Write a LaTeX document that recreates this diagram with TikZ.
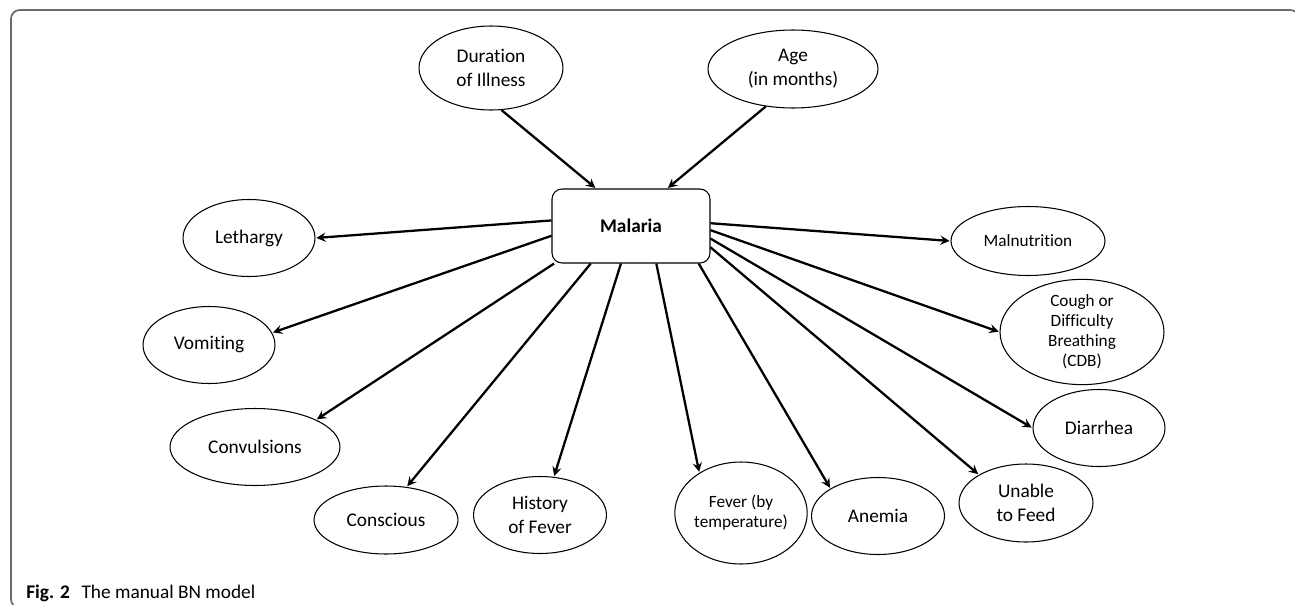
\documentclass[tikz,border=0pt]{standalone}
\usepackage{fontspec}
\setmainfont{Carlito}[Ligatures={NoCommon,NoContextual},Contextuals=NoAlternate]
\usetikzlibrary{arrows,shapes}

\begin{document}
\begin{tikzpicture}[x=0.02cm,y=-0.02cm,
    var/.style={ellipse,draw,line width=0.6pt,inner sep=0pt,align=center,font=\fontsize{11}{13.6}\selectfont},
    small/.style={font=\fontsize{9.8}{11.4}\selectfont},
    arr/.style={-stealth,line width=1.3pt,shorten >=0.5pt}]
  \useasboundingbox (0,0) rectangle (1295,605);
  \draw[gray!85!black,line width=1pt,rounded corners=5pt] (11,10) rectangle (1299,608);

  \node[draw,rounded corners=0.2cm,line width=0.6pt,minimum width=3.16cm,minimum height=1.48cm,
        font=\fontsize{11}{13}\selectfont\bfseries] (mal) at (631,226) {Malaria};

  \node[var,minimum width=2.88cm,minimum height=1.68cm] (dur) at (491,68) {Duration\\of Illness};
  \node[var,minimum width=3.40cm,minimum height=1.56cm] (age) at (793,69) {Age\\(in months)};
  \node[var,minimum width=2.64cm,minimum height=1.54cm] (leth) at (249,238) {Lethargy};
  \node[var,minimum width=2.64cm,minimum height=1.54cm] (vom) at (209,345) {Vomiting};
  \node[var,minimum width=3.40cm,minimum height=1.54cm] (conv) at (255,447) {Convulsions};
  \node[var,minimum width=2.88cm,minimum height=1.36cm] (consc) at (386,520) {Conscious};
  \node[var,minimum width=2.66cm,minimum height=1.54cm] (hist) at (540,515) {History\\of Fever};
  \node[var,small,minimum width=2.20cm,minimum height=2.04cm] (fev) at (741,513) {Fever (by\\temperature)};
  \node[var,minimum width=2.66cm,minimum height=1.54cm] (anem) at (878,516) {Anemia};
  \node[var,minimum width=2.68cm,minimum height=1.56cm] (unab) at (1026,503) {Unable\\to Feed};
  \node[var,minimum width=2.64cm,minimum height=1.54cm] (diar) at (1099,428) {Diarrhea};
  \node[var,small,minimum width=3.28cm,minimum height=1.80cm] (cdb) at (1082,332) {Cough or\\Difficulty\\Breathing\\(CDB)};
  \node[var,small,minimum width=3.08cm,minimum height=1.38cm] (maln) at (1028,241) {Malnutrition};

  \path[arr]
    (dur.284) edge (mal.133)
    (age.234) edge (mal.46)
    (mal.176) edge (leth.0)
    (mal.187) edge (vom.11)
    (mal.206) edge (conv.24)
    (mal.223) edge (consc.58)
    (mal.255) edge (hist.70)
    (mal.304) edge (fev.136)
    (mal.331) edge (anem.150)
    (mal.345) edge (unab.149)
    (mal.351) edge (diar.180)
    (mal.357) edge (cdb.180)
    (mal.2) edge (maln.180);

  \node[anchor=base west,inner sep=0pt,font=\fontsize{11}{13}\selectfont] (cap) at (26,598)
    {\textbf{Fig. 2}\hspace{0.6em}The manual BN model};
\end{tikzpicture}
\end{document}
